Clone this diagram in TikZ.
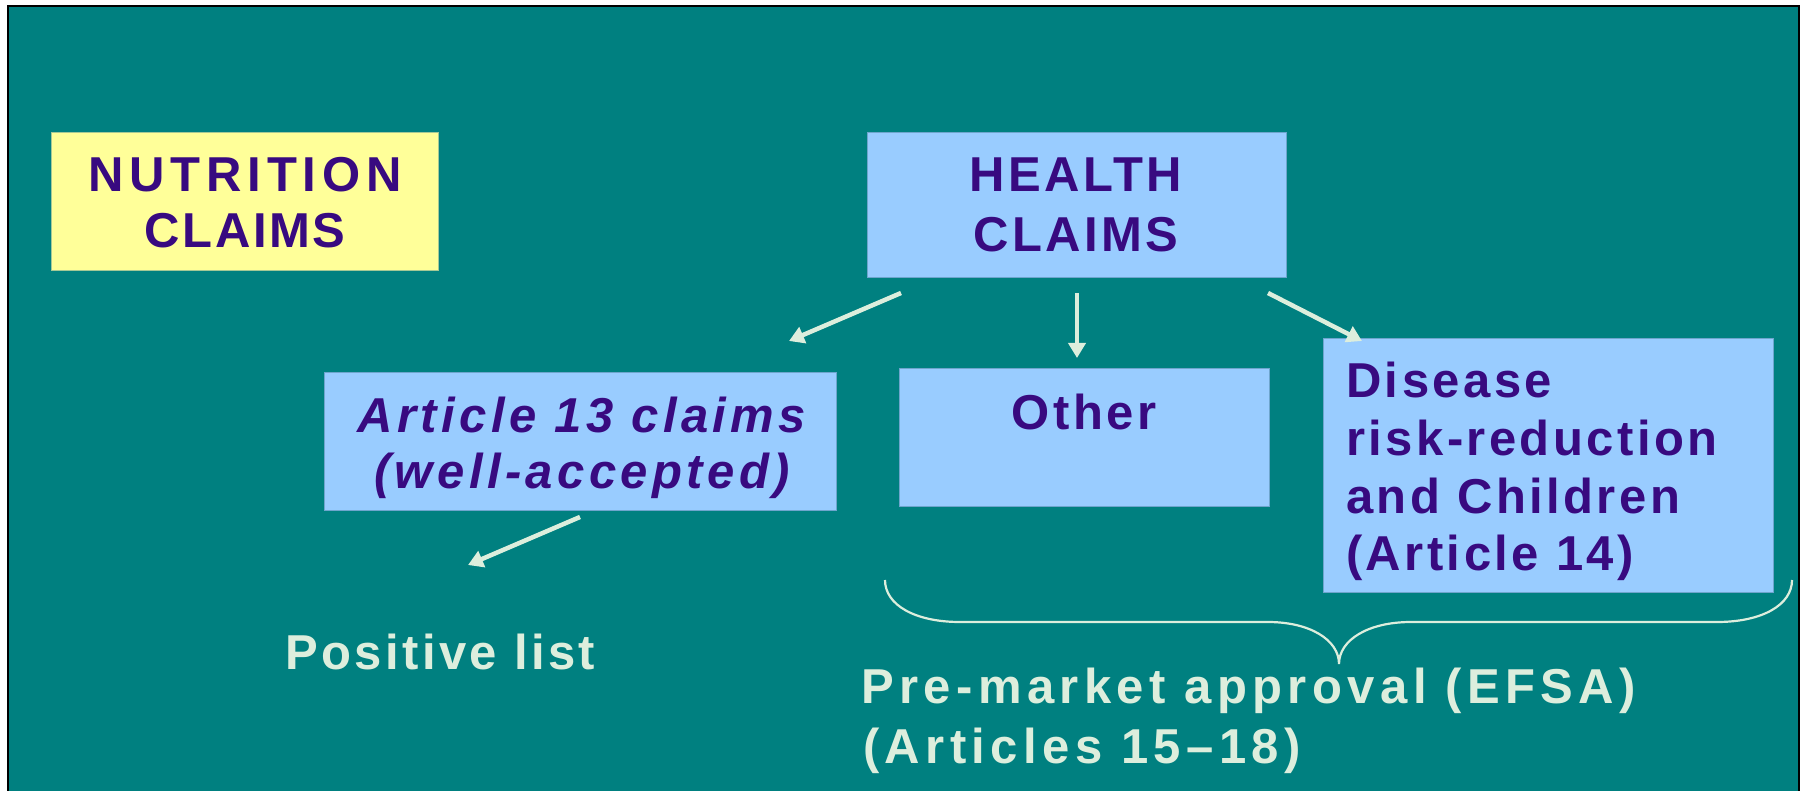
\documentclass[tikz,border=0pt]{standalone}
\usepackage{fontspec}
\setmainfont{Liberation Sans}[LetterSpace=7]
\usetikzlibrary{arrows.meta}
\definecolor{teal0}{RGB}{0,128,128}
\definecolor{ink}{RGB}{56,10,128}
\definecolor{pale}{RGB}{221,238,221}
\definecolor{yellowbox}{RGB}{255,255,153}
\definecolor{bluebox}{RGB}{153,204,255}
\definecolor{blueedge}{RGB}{110,165,205}
\definecolor{yellowedge}{RGB}{165,200,150}
\tikzset{
  boxnode/.style={draw=blueedge, line width=1.2pt, fill=bluebox, rectangle, inner sep=0pt, anchor=north west},
  ybox/.style={boxnode, draw=yellowedge, fill=yellowbox},
  inktext/.style={text=ink, anchor=base, inner sep=0pt, font=\fontsize{49}{56}\selectfont\bfseries},
  paletext/.style={text=pale, anchor=base west, inner sep=0pt, font=\fontsize{49}{56}\selectfont\bfseries},
  arr/.style={draw=pale, line width=4.5pt, -{Triangle[width=17pt,length=15pt]}},
  bracestyle/.style={draw=pale, line width=2.2pt}
}
\begin{document}
\begin{tikzpicture}[x=1pt,y=-1pt]
\useasboundingbox (0,0) rectangle (1804,791);
\fill[white] (0,0) rectangle (1804,791);
\fill[teal0] (8,6) rectangle (1799,795);
\draw[black, line width=2.5pt] (8,795) -- (8,6) -- (1799,6) -- (1799,795);

% boxes
\node[ybox, minimum width=387pt, minimum height=138pt] (nut) at (51,132) {};
\node[boxnode, minimum width=419pt, minimum height=145pt] (health) at (867,132) {};
\node[boxnode, minimum width=512pt, minimum height=138pt] (art13) at (324,372) {};
\node[boxnode, minimum width=370pt, minimum height=138pt] (other) at (899,368) {};
\node[boxnode, minimum width=450pt, minimum height=254pt] (disease) at (1323,338) {};

% box texts
\node[inktext] (nut1) at (245,192) {\addfontfeature{LetterSpace=12}NUTRITION};
\node[inktext] (nut2) at (245,248) {\addfontfeature{LetterSpace=5}CLAIMS};
\node[inktext] (hea1) at (1076,192) {HEALTH};
\node[inktext] (hea2) at (1076,252) {CLAIMS};
\node[inktext, font=\fontsize{49}{56}\selectfont\bfseries\itshape] (art1) at (582,432) {\addfontfeature{LetterSpace=9}Article 13 claims};
\node[inktext, font=\fontsize{49}{56}\selectfont\bfseries\itshape] (art2) at (582,488) {\addfontfeature{LetterSpace=9}(well-accepted)};
\node[inktext] (oth1) at (1084,429) {Other};
\node[inktext, anchor=base west] (dis1) at (1346,398) {Disease};
\node[inktext, anchor=base west] (dis2) at (1346,455) {risk-reduction};
\node[inktext, anchor=base west] (dis3) at (1346,513) {and Children};
\node[inktext, anchor=base west] (dis4) at (1346,570) {(Article 14)};

% free texts
\node[paletext] (pos) at (285,669) {Positive list};
\node[paletext] (pre1) at (861,703) {\addfontfeature{LetterSpace=11}Pre-market approval (EFSA)};
\node[paletext] (pre2) at (863,763) {\addfontfeature{LetterSpace=11}(Articles 15--18)};

% arrows
\coordinate (aLs) at (901,293);
\coordinate (aLe) at (789,341);
\coordinate (aMs) at (1077,293);
\coordinate (aMe) at (1077,358);
\coordinate (aRs) at (1268,293);
\coordinate (aRe) at (1362,341);
\coordinate (aPs) at (580,517);
\coordinate (aPe) at (468,565);
\draw[arr] (aLs) -- (aLe);
\draw[arr] (aMs) -- (aMe);
\draw[arr] (aRs) -- (aRe);
\draw[arr] (aPs) -- (aPe);

% brace
\coordinate (bl) at (885,580);
\coordinate (bt) at (1339,664);
\coordinate (br) at (1792,580);
\draw[bracestyle] (bl) .. controls (885,605) and (915,622) .. (960,622)
  -- (1268,622) .. controls (1310,622) and (1339,640) .. (bt)
  .. controls (1339,640) and (1368,622) .. (1411,622)
  -- (1717,622) .. controls (1762,622) and (1792,605) .. (br);
\end{tikzpicture}
\end{document}
